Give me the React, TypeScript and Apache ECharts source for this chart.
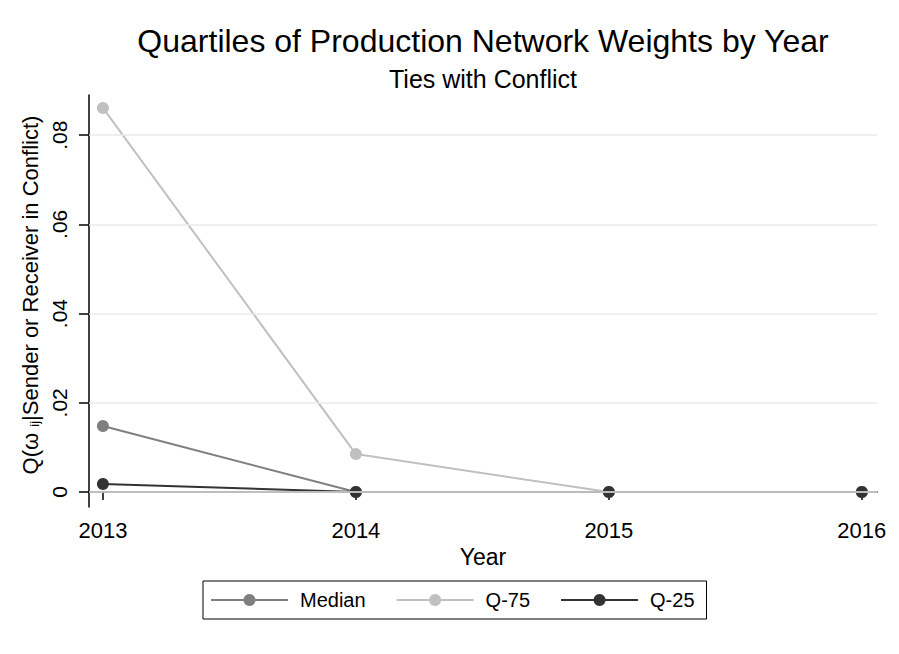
import React, { useEffect, useRef } from "react";
import * as echarts from "echarts";

const years = [2013, 2014, 2015, 2016];
const median = [0.0148, 0, 0, 0];
const q75 = [0.0861, 0.0085, 0, 0];
const q25 = [0.0018, 0, 0, 0];
const yTicks = [0, 0.02, 0.04, 0.06, 0.08];
const yTickLabels = ["0", ".02", ".04", ".06", ".08"];

const FONT = "Liberation Sans, Arial, Helvetica, sans-serif";

export default function App() {
  const ref = useRef<HTMLDivElement>(null);
  useEffect(() => {
    if (!ref.current) return;
    const chart = echarts.init(ref.current, null, { renderer: "svg" });
    const mk = (name: string, data: number[], color: string) => ({
      name,
      type: "line",
      data: years.map((y, i) => [y, data[i]]),
      symbol: "circle",
      symbolSize: 12,
      lineStyle: { color, width: 2 },
      itemStyle: { color },
      color,
    });
    chart.setOption({
      animation: false,
      backgroundColor: "#ffffff",
      textStyle: { fontFamily: FONT },
      title: [
        {
          text: "Quartiles of Production Network Weights by Year",
          left: 478,
          top: 20,
          textAlign: "center",
          textStyle: { fontSize: 32, fontWeight: "normal", color: "#000", fontFamily: FONT },
        },
        {
          text: "Ties with Conflict",
          left: 478,
          top: 61,
          textAlign: "center",
          textStyle: { fontSize: 25, fontWeight: "normal", color: "#000", fontFamily: FONT },
        },
      ],
      grid: { left: 89, right: 22, top: 95, bottom: 147, containLabel: false },
      xAxis: {
        type: "value",
        min: 2012.945,
        max: 2016.06,
        name: "Year",
        nameLocation: "middle",
        nameGap: 37,
        nameTextStyle: { fontSize: 23, color: "#000", fontFamily: FONT },
        axisLine: { show: true, lineStyle: { color: "#000", width: 1.5 } },
        axisTick: { show: true, customValues: years, length: 8, lineStyle: { color: "#000", width: 1.5 } },
        axisLabel: {
          customValues: years,
          formatter: (v: number) => String(Math.round(v)),
          fontSize: 22,
          color: "#000",
          margin: 12,
          fontFamily: FONT,
        },
        splitLine: { show: false },
      },
      yAxis: {
        type: "value",
        min: -0.00336,
        max: 0.089,
        name: "Q(ω {sub|ij}|Sender or Receiver in Conflict)",
        nameLocation: "middle",
        nameGap: 44,
        nameRotate: 90,
        nameTextStyle: {
          fontSize: 22,
          color: "#000",
          fontFamily: FONT,
          padding: [0, 0, 0, 12],
          rich: {
            sub: { fontSize: 13, color: "#000", fontFamily: FONT, verticalAlign: "bottom", padding: [9, 0, 0, 0] },
          },
        },
        axisLine: { show: true, lineStyle: { color: "#000", width: 1.5 } },
        axisTick: { show: true, customValues: yTicks, length: 10, lineStyle: { color: "#000", width: 1.5 } },
        axisLabel: {
          customValues: yTicks,
          formatter: (v: number) => {
            const i = yTicks.findIndex((t) => Math.abs(t - v) < 1e-9);
            return i >= 0 ? yTickLabels[i] : "";
          },
          rotate: 90,
          fontSize: 21,
          color: "#000",
          margin: 19,
          fontFamily: FONT,
        },
        splitLine: { show: false },
      },
      series: [
        mk("Median", median, "#7f7f7f"),
        mk("Q-75", q75, "#c0c0c0"),
        mk("Q-25", q25, "#333333"),
        {
          type: "line",
          silent: true,
          data: [],
          markLine: {
            silent: true,
            symbol: "none",
            label: { show: false },
            lineStyle: { color: "#eaeaea", width: 1.5, type: "solid" },
            data: yTicks.map((t) => ({ yAxis: t })),
          },
          z: 1,
        },
      ],
      legend: {
        left: 203,
        top: 581,
        data: ["Median", "Q-75", "Q-25"],
        itemWidth: 77,
        itemHeight: 15,
        itemGap: 30,
        padding: [9, 12, 9, 7],
        borderColor: "#000",
        borderWidth: 1,
        textStyle: { fontSize: 20, color: "#000", fontFamily: FONT, padding: [0, 0, 0, 7] },
      },
    });
    return () => chart.dispose();
  }, []);
  return <div ref={ref} style={{ width: 899, height: 654, position: "absolute", left: 0, top: 0 }} />;
}
